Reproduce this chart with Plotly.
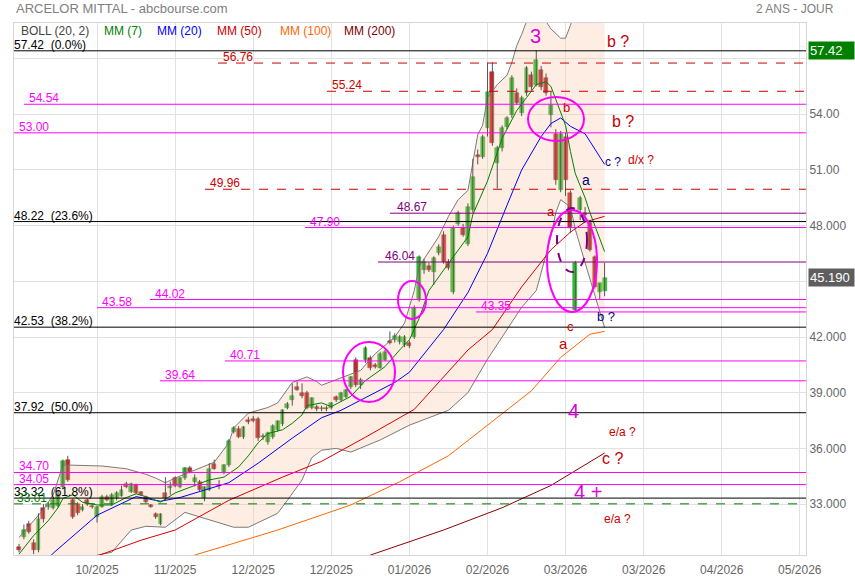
import plotly.graph_objects as go

# ---------------- data ----------------
opens = [30.7, 31.2, 31.9, 30.9, 30.5, 32.8, 32.85, 32.8, 32.9, 33.9,
         35.4, 33.2, 33.0, 32.7, 33.2, 32.9, 32.3, 32.85, 33.4, 33.0,
         33.3, 33.45, 34.1, 33.65, 34.0, 33.65, 33.4, 32.95, 32.45, 31.95,
         33.6, 33.85, 34.4, 33.9, 34.4, 34.95, 34.2, 34.2, 33.3, 33.75,
         35.15, 34.05, 34.7, 35.1, 36.9, 37.05, 36.6, 37.55, 37.6, 37.6,
         36.65, 36.35, 36.6, 37.0, 37.3, 38.2, 38.6, 39.3, 39.0, 39.0,
         38.2, 38.25, 38.1, 38.2, 38.2, 38.75, 38.6, 38.75, 39.3, 40.75,
         39.4, 40.75, 40.85, 40.5, 40.35, 40.75, 41.8, 41.85, 41.75, 41.55,
         41.7, 42.0, 44.0, 45.6, 45.8, 45.5, 46.5, 47.5, 46.05, 44.4,
         48.1, 47.9, 47.0, 48.85, 51.8, 51.7, 53.25, 56.3, 51.4, 52.2,
         53.3, 53.95, 55.15, 54.05, 55.15, 56.1, 55.6, 56.4, 55.95, 53.95,
         52.95, 49.9, 52.8, 49.75, 43.45, 48.85, 48.7, 48.15, 46.3, 44.4,
         44.5]
highs = [30.85, 31.9, 32.1, 31.1, 32.5, 33.0, 33.1, 33.3, 33.7, 35.4,
         35.6, 33.3, 33.1, 33.0, 33.3, 33.05, 32.9, 33.5, 33.5, 33.6,
         33.7, 34.0, 34.2, 34.15, 34.1, 33.7, 33.45, 33.0, 32.55, 32.5,
         34.45, 34.2, 34.5, 34.45, 35.0, 35.05, 34.6, 34.3, 33.95, 35.2,
         35.4, 34.3, 35.15, 36.5, 37.2, 37.2, 37.2, 37.7, 37.75, 37.7,
         36.8, 36.9, 37.3, 37.5, 38.1, 38.5, 39.5, 39.6, 39.5, 39.1,
         38.75, 38.35, 38.3, 38.3, 38.5, 38.85, 39.05, 39.2, 39.9, 40.9,
         39.8, 41.5, 41.0, 40.6, 41.2, 41.3, 42.3, 42.2, 42.1, 42.1,
         41.8, 43.7, 46.4, 46.2, 46.0, 46.35, 47.0, 47.7, 46.2, 48.0,
         48.8, 48.1, 49.2, 51.6, 52.1, 52.9, 56.8, 56.8, 52.3, 53.4,
         53.9, 56.1, 55.4, 55.0, 56.6, 56.3, 57.45, 56.6, 56.2, 55.2,
         53.2, 53.1, 53.0, 49.9, 46.1, 49.6, 49.0, 48.3, 46.4, 44.9,
         46.0]
lows = [30.4, 31.1, 31.4, 30.3, 30.4, 32.0, 32.7, 32.7, 32.8, 33.8,
        34.2, 32.2, 32.4, 32.6, 32.9, 32.75, 32.0, 32.8, 33.15, 32.9,
        33.2, 33.4, 33.85, 33.6, 33.55, 33.45, 33.05, 32.8, 32.2, 31.85,
        33.2, 33.5, 33.9, 33.85, 34.3, 34.65, 33.95, 33.7, 33.15, 33.7,
        34.85, 33.8, 34.6, 35.0, 36.8, 36.55, 36.5, 37.3, 37.4, 36.4,
        36.45, 36.2, 36.5, 36.9, 37.2, 38.1, 38.3, 39.1, 38.7, 38.1,
        38.1, 38.0, 38.0, 38.0, 38.1, 38.5, 38.5, 38.7, 39.2, 39.3,
        39.2, 40.6, 40.2, 40.3, 40.3, 40.7, 41.6, 41.7, 41.6, 41.45,
        41.4, 41.9, 43.9, 45.4, 45.5, 44.8, 46.4, 45.95, 45.6, 44.3,
        48.0, 47.4, 46.9, 48.7, 51.3, 51.6, 52.8, 52.3, 50.0, 52.0,
        53.2, 53.8, 54.5, 53.9, 55.0, 55.3, 55.5, 55.3, 55.0, 53.3,
        50.2, 49.8, 49.6, 47.6, 43.35, 48.3, 48.2, 46.6, 44.6, 44.0,
        44.2]
closes = [30.5, 31.6, 31.5, 30.5, 32.2, 32.2, 33.0, 33.2, 33.5, 35.3,
          34.3, 32.3, 32.5, 32.85, 33.0, 32.85, 32.85, 33.4, 33.2, 33.5,
          33.6, 33.75, 33.9, 34.1, 33.6, 33.5, 33.1, 32.85, 32.3, 32.45,
          33.3, 33.95, 33.95, 34.4, 34.95, 34.7, 34.4, 33.75, 33.9, 34.9,
          34.9, 33.95, 35.1, 36.4, 37.1, 36.6, 37.15, 37.4, 37.5, 36.55,
          36.6, 36.85, 37.2, 37.45, 38.05, 38.4, 38.8, 39.15, 38.8, 38.2,
          38.7, 38.1, 38.15, 38.1, 38.45, 38.6, 39.0, 39.15, 39.85, 39.4,
          39.7, 41.4, 40.35, 40.4, 41.1, 41.2, 41.7, 42.05, 42.0, 42.0,
          41.5, 43.55, 46.3, 46.05, 45.6, 46.25, 46.85, 46.05, 45.7, 47.9,
          48.7, 47.5, 49.0, 50.6, 51.7, 52.8, 55.2, 52.45, 52.2, 53.25,
          53.8, 55.95, 54.6, 54.9, 56.5, 55.45, 56.9, 55.45, 55.15, 54.5,
          50.45, 52.95, 50.45, 47.9, 46.0, 49.5, 48.6, 46.7, 44.7, 44.9,
          45.19]
days = list(range(len(closes)))

ma7_x = [0, 3, 6, 8, 9, 11, 13, 16, 19, 22, 24, 26, 29, 32, 36, 39, 42, 45, 47, 49, 51, 54, 56,
         58, 59, 62, 64, 68, 71, 75, 78, 80, 82, 84, 87, 90, 92, 93, 96, 99, 102, 104, 106, 108,
         109, 110, 112, 113, 114, 116, 117, 120]
ma7_y = [30.3, 31.3, 32.1, 32.8, 33.3, 33.5, 33.1, 32.95, 32.95, 33.35, 33.55, 33.4, 33.1, 33.6,
         34.0, 34.3, 34.45, 35.0, 35.6, 36.3, 36.8, 37.0, 37.35, 37.8, 38.3, 38.45, 38.25, 38.8,
         39.65, 40.4, 41.3, 41.85, 43.0, 44.5, 45.6, 46.7, 47.4, 48.6, 50.4, 52.7, 54.2, 54.9,
         55.6, 55.75, 55.5, 54.8, 53.4, 52.0, 50.8, 49.5, 48.7, 46.6]

ma20_x = [5, 7, 16, 24, 29, 33, 43, 49, 56, 62, 66, 77, 80, 87, 92, 96, 100, 103, 107, 109,
          111, 113, 116, 118, 120]
ma20_y = [29.8, 30.35, 32.4, 33.4, 33.15, 33.35, 34.15, 35.2, 36.55, 37.65, 38.05, 39.55, 40.1,
          42.4, 44.4, 46.5, 49.1, 51.0, 52.8, 53.5, 53.8, 53.35, 52.95, 52.1, 51.3]

ma50_x = [14, 16, 25, 32, 43, 54, 62, 71, 81, 92, 97, 103, 109, 113, 116, 120]
ma50_y = [29.8, 30.2, 31.05, 31.6, 33.2, 34.45, 35.3, 36.6, 38.1, 41.3, 42.4, 44.7, 46.7, 47.65,
          48.2, 48.5]

ma100_x = [33, 36, 48, 53, 68, 78, 88, 96, 105, 111, 117, 120]
ma100_y = [29.9, 30.25, 31.2, 31.6, 32.95, 34.2, 35.6, 37.25, 39.1, 40.9, 42.15, 42.3]

ma200_x = [69, 72, 87, 99, 109, 115, 120]
ma200_y = [29.9, 30.25, 31.6, 32.8, 34.0, 34.95, 35.75]

boll_up_x = [0, 5, 7, 9, 10, 17, 22, 26, 28, 30, 32, 37, 40, 43, 44, 47, 51, 53, 56, 59, 61, 62,
             66, 70, 73, 77, 79, 81, 82, 84, 86, 88, 90, 92, 94, 95, 96, 98, 100, 101, 102, 103,
             104, 105, 106, 107, 108, 109, 111, 112, 113, 114, 116, 118, 120]
boll_up_y = [31.2, 32.7, 33.5, 35.1, 35.1, 35.05, 34.9, 34.6, 34.4, 34.15, 34.4, 34.95, 35.25,
             36.3, 37.1, 37.9, 38.2, 38.45, 39.55, 39.85, 39.6, 39.4, 39.8, 40.2, 41.1, 42.0,
             42.75, 44.5, 45.8, 46.6, 47.4, 48.5, 49.4, 49.9, 52.9, 53.4, 54.9, 55.6, 56.1, 56.8,
             57.7, 58.3, 59.0, 59.5, 59.6, 59.4, 59.0, 58.6, 58.1, 58.1, 58.8, 59.6, 60.2, 60.5,
             60.5]
boll_lo_x = [0, 8, 14, 16, 19, 23, 26, 30, 34, 37, 44, 47, 51, 53, 55, 58, 60, 62, 65, 68, 74,
             80, 88, 92, 96, 100, 103, 106, 109, 110, 111, 113, 114, 116, 118, 120]
boll_lo_y = [28.5, 27.8, 29.5, 30.25, 30.4, 31.6, 31.8, 31.75, 32.55, 32.3, 31.75, 31.75, 32.25,
             32.5, 33.2, 34.3, 35.5, 35.9, 36.0, 35.8, 36.45, 37.25, 38.05, 39.0, 40.8, 42.4,
             43.6, 44.5, 47.4, 48.7, 49.4, 49.0, 47.8, 46.0, 44.2, 42.5]

x_tick_pos = [16, 32, 48, 64, 80, 96, 112, 128, 144, 160]
x_tick_txt = ['10/2025', '11/2025', '12/2025', '12/2025', '01/2026', '02/2026', '03/2026',
              '03/2026', '04/2026', '05/2026']
y_tick_pos = [33, 36, 39, 42, 45, 48, 51, 54, 57]
y_tick_txt = ['33.000', '36.000', '39.000', '42.000', '', '48.000', '51.00', '54.00', '']

fib_levels = [57.42, 48.22, 42.53, 37.92, 33.32]
fib_labels = ['57.42  (0.0%)', '48.22  (23.6%)', '42.53  (38.2%)', '37.92  (50.0%)', '33.32  (61.8%)']

dash_levels = [56.76, 55.24, 49.96]
dash_start_px = [218, 327, 205]
green_dash_level = 33.01

magenta_levels = [54.54, 53.00, 47.90, 44.02, 43.58, 43.35, 40.71, 39.64, 34.70, 34.05]
magenta_start_px = [24, 14, 305, 150, 97, 476, 225, 160, 14, 14]
purple_levels = [48.67, 46.04]
purple_start_px = [390, 378]

last_price = 45.19

# ---------------- geometry helpers (pixel -> paper / data) ----------------
W, H = 855, 580
ML, MR, MT, MB = 14, 49, 23, 25
PW, PH = W - ML - MR, H - MT - MB


def px(x):
    return (x - ML) / PW


def py(y):
    return (H - MB - y) / PH


def pv(y):
    return 42 + (337 - y) / 18.56


XR = [(14 - 19) / 4.88, (806 - 19) / 4.88]
YR = [pv(555), pv(23)]

fig = go.Figure()

# Bollinger band (fill)
fig.add_trace(go.Scatter(x=boll_up_x, y=boll_up_y, mode='lines',
                         line=dict(color='#7a7a7a', width=1), hoverinfo='skip'))
fig.add_trace(go.Scatter(x=boll_lo_x, y=boll_lo_y, mode='lines', fill='tonexty',
                         fillcolor='rgba(248,190,150,0.28)',
                         line=dict(color='#7a7a7a', width=1), hoverinfo='skip'))

fig.add_trace(go.Scatter(x=ma200_x, y=ma200_y, mode='lines', line=dict(color='#8b0000', width=1)))
fig.add_trace(go.Scatter(x=ma100_x, y=ma100_y, mode='lines', line=dict(color='#ff6600', width=1)))
fig.add_trace(go.Scatter(x=ma50_x, y=ma50_y, mode='lines', line=dict(color='#dd0000', width=1)))

# candles: wicks
wx, wy = [], []
for d, h, l in zip(days, highs, lows):
    wx += [d, d, None]
    wy += [l, h, None]
fig.add_trace(go.Scatter(x=wx, y=wy, mode='lines', line=dict(color='#555555', width=1),
                         hoverinfo='skip'))

# candles: bodies
up_x, up_b, up_h, dn_x, dn_b, dn_h = [], [], [], [], [], []
for d, o, c in zip(days, opens, closes):
    lo, hi = min(o, c), max(o, c)
    hgt = max(hi - lo, 0.06)
    if c >= o:
        up_x.append(d); up_b.append(lo); up_h.append(hgt)
    else:
        dn_x.append(d); dn_b.append(lo); dn_h.append(hgt)
fig.add_trace(go.Bar(x=up_x, y=up_h, base=up_b, width=0.8,
                     marker=dict(color='#22cc22', line=dict(color='#2f8a2f', width=0.5))))
fig.add_trace(go.Bar(x=dn_x, y=dn_h, base=dn_b, width=0.8,
                     marker=dict(color='#e02020', line=dict(color='#8a2f2f', width=0.5))))

fig.add_trace(go.Scatter(x=ma20_x, y=ma20_y, mode='lines', line=dict(color='#0000ff', width=1)))
fig.add_trace(go.Scatter(x=ma7_x, y=ma7_y, mode='lines', line=dict(color='#008000', width=1)))

shapes = []
annots = []
FONT = 'Liberation Sans, Arial, sans-serif'


def level(val, start_px, color, dash='solid', width=1):
    shapes.append(dict(type='line', xref='paper', yref='y', x0=px(start_px), x1=1,
                       y0=val, y1=val, line=dict(color=color, width=width, dash=dash),
                       layer='above'))


def label(text, x_px, val, color, size=12):
    annots.append(dict(text=text, xref='paper', yref='y', x=px(x_px), y=val,
                       xanchor='left', yanchor='bottom', showarrow=False, borderpad=0,
                       font=dict(color=color, size=size, family=FONT), yshift=-2))


for v, t in zip(fib_levels, fib_labels):
    level(v, 14, '#000000')
    label(t, 13, v, '#000000')

for v, s in zip(dash_levels, dash_start_px):
    level(v, s, '#cc0000', dash='dash')
    label('%.2f' % v, s + 4, v, '#cc0000')

level(green_dash_level, 14, '#008000', dash='dash')
label('%.2f' % green_dash_level, 16, green_dash_level, '#008000')

for v, s in zip(magenta_levels, magenta_start_px):
    level(v, s, '#ff00ff')
    label('%.2f' % v, s + 4, v, '#ff00ff')

for v, s in zip(purple_levels, purple_start_px):
    level(v, s, '#800080')
    label('%.2f' % v, s + 6, v, '#800080')


def txt(text, x, y, color, size, anchor='center'):
    annots.append(dict(text=text, xref='paper', yref='paper', x=px(x), y=py(y),
                       xanchor=anchor, yanchor='middle', showarrow=False,
                       font=dict(color=color, size=size, family=FONT)))


# wave labels
txt('3', 535, 36, '#dd00dd', 20)
txt('b ?', 618, 42, '#cc0000', 16)
txt('b', 566, 107, '#cc0000', 13)
txt('b ?', 623, 122, '#cc0000', 16)
txt('c ?', 613, 162, '#000080', 12)
txt('d/x ?', 641, 160, '#cc0000', 12)
txt('a', 586, 180, '#000080', 14)
txt('a', 551, 211, '#cc0000', 13)
txt('c', 570, 326, '#cc0000', 13)
txt('b ?', 606, 317, '#000080', 13)
txt('a', 563, 343, '#cc0000', 15)
txt('4', 573, 411, '#dd00dd', 20)
txt('e/a ?', 622, 432, '#cc0000', 12)
txt('c ?', 612, 458, '#cc0000', 16)
txt('4 +', 588, 492, '#dd00dd', 20)
txt('e/a ?', 617, 519, '#cc0000', 12)

# header & legend
txt('ARCELOR MITTAL - abcbourse.com', 14, 9, '#808080', 13, anchor='left')
txt('2 ANS - JOUR', 836, 9, '#808080', 12, anchor='right')
txt('BOLL (20, 2)', 19, 31, '#444444', 12, anchor='left')
txt('MM (7)', 102, 31, '#008000', 12, anchor='left')
txt('MM (20)', 155, 31, '#0000ff', 12, anchor='left')
txt('MM (50)', 215, 31, '#cc0000', 12, anchor='left')
txt('MM (100)', 278, 31, '#ff6600', 12, anchor='left')
txt('MM (200)', 342, 31, '#800000', 12, anchor='left')

# price tags on the right axis
annots.append(dict(text='57.42', xref='paper', yref='y', x=1, y=fib_levels[0], xanchor='left',
                   yanchor='middle', xshift=2, showarrow=False, bgcolor='#008000',
                   width=43, height=15, align='left',
                   font=dict(color='white', size=13, family=FONT)))
annots.append(dict(text='%.3f' % last_price, xref='paper', yref='y', x=1, y=last_price,
                   xanchor='left', yanchor='middle', xshift=2, showarrow=False,
                   bgcolor='#5e5e5e', width=43, height=15, align='left',
                   font=dict(color='white', size=13, family=FONT)))


def ellipse(cx, cy, rx, ry, color, dash='solid', width=2):
    shapes.append(dict(type='circle', xref='paper', yref='paper',
                       x0=px(cx - rx), x1=px(cx + rx), y0=py(cy + ry), y1=py(cy - ry),
                       line=dict(color=color, width=width, dash=dash), layer='above'))


ellipse(556, 119, 28, 22, '#ff00ff')
ellipse(572, 261, 25, 51, '#ff00ff')
ellipse(412, 300, 14, 19, '#ff00ff')
ellipse(369, 372, 26, 30, '#ff00ff')
ellipse(572, 240, 15, 32, '#800080', dash='dash')

fig.update_layout(
    width=W, height=H, margin=dict(l=ML, r=MR, t=MT, b=MB, autoexpand=False),
    paper_bgcolor='white', plot_bgcolor='white', showlegend=False,
    barmode='overlay', bargap=0, shapes=shapes, annotations=annots,
    font=dict(family=FONT, size=12, color='#666666'),
    xaxis=dict(range=XR, tickvals=x_tick_pos, ticktext=x_tick_txt, showgrid=True,
               gridcolor='#e2e2e2', gridwidth=1, zeroline=False, showline=True,
               linecolor='#d6d6d6', mirror=True, ticks='', automargin=False,
               ticklabelstandoff=4, tickfont=dict(size=12, color='#666666')),
    yaxis=dict(range=YR, side='right', tickvals=y_tick_pos, ticktext=y_tick_txt, showgrid=True,
               gridcolor='#e2e2e2', gridwidth=1, zeroline=False, showline=True,
               linecolor='#d6d6d6', mirror=True, ticks='', automargin=False,
               tickfont=dict(size=12, color='#666666')),
)

fig.write_html('out.html', config={'displayModeBar': False},
               post_script="document.body.style.margin='0px';")
